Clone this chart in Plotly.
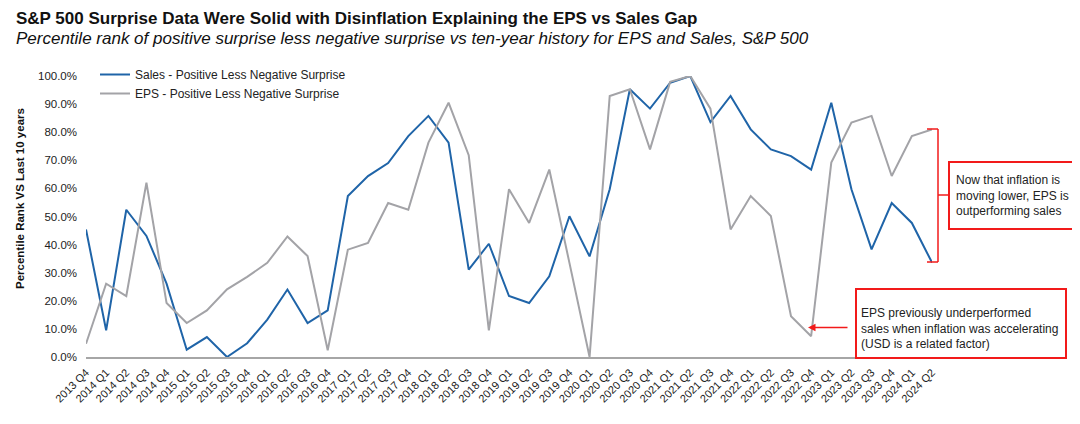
import plotly.graph_objects as go

quarters = ["2013 Q4"] + [f"{y} Q{q}" for y in range(2014, 2024) for q in range(1, 5)] + ["2024 Q1", "2024 Q2"]

sales = [45.4, 9.5, 52.4, 43.1, 26.1, 2.6, 7.1, 0.0, 4.9, 13.3, 24.0, 12.1, 16.6,
         57.3, 64.4, 69.0, 78.6, 85.8, 76.3, 31.1, 40.3, 21.7, 19.2, 28.7, 50.1,
         35.8, 59.7, 95.3, 88.4, 97.6, 100.0, 83.6, 92.9, 81.0, 73.9, 71.5, 66.7,
         90.5, 59.7, 38.3, 54.8, 47.7, 33.6]

eps = [4.7, 26.1, 21.7, 62.0, 19.2, 12.1, 16.6, 24.1, 28.5, 33.5, 42.9, 35.9, 2.4,
       38.2, 40.6, 54.8, 52.4, 76.3, 90.5, 71.8, 9.5, 59.7, 47.7, 66.7, 33.5,
       0.0, 92.9, 95.3, 73.9, 97.9, 100.0, 88.4, 45.4, 57.3, 50.2, 14.5, 7.4,
       69.2, 83.4, 85.8, 64.4, 78.6, 81.0]

FONT = "Liberation Sans, Arial, sans-serif"
OFF = 8  # page body margin
W, H = 1080 - OFF, 424 - OFF
# target positions in screen pixels
SL, SR, ST, SB = 86, 932, 76, 357
L, T = SL - OFF, ST - OFF
R = W - (SR - OFF)
B = H - (SB - OFF)
PW = W - L - R
PH = H - T - B

def px(x):
    return (x - OFF - L) / PW

def py(y):
    return (H - B - (y - OFF)) / PH

fig = go.Figure()
fig.add_trace(go.Scatter(x=quarters, y=sales, mode="lines",
                         name="Sales - Positive Less Negative Surprise",
                         line=dict(color="#1F64A8", width=2)))
fig.add_trace(go.Scatter(x=quarters, y=eps, mode="lines",
                         name="EPS - Positive Less Negative Surprise",
                         line=dict(color="#A3A3A7", width=2)))

RED = "#F21A1A"
shapes = [
    # bracket
    dict(type="line", xref="paper", yref="paper", x0=px(927), x1=px(938), y0=py(129), y1=py(129), line=dict(color=RED, width=1.5)),
    dict(type="line", xref="paper", yref="paper", x0=px(927), x1=px(938), y0=py(262), y1=py(262), line=dict(color=RED, width=1.5)),
    dict(type="line", xref="paper", yref="paper", x0=px(938), x1=px(938), y0=py(129), y1=py(262), line=dict(color=RED, width=1.5)),
    dict(type="line", xref="paper", yref="paper", x0=px(938), x1=px(949), y0=py(195), y1=py(195), line=dict(color=RED, width=1.5)),
    # boxes
    dict(type="rect", xref="paper", yref="paper", x0=px(949), x1=px(1073), y0=py(229), y1=py(162), line=dict(color=RED, width=2), fillcolor="white"),
    dict(type="rect", xref="paper", yref="paper", x0=px(856), x1=px(1066), y0=py(358), y1=py(289), line=dict(color=RED, width=2), fillcolor="white"),
]

annotations = [
    dict(text="<b>S&P 500 Surprise Data Were Solid with Disinflation Explaining the EPS vs Sales Gap</b>",
         xref="paper", yref="paper", x=px(14), y=py(18), xanchor="left", yanchor="middle", showarrow=False,
         font=dict(family=FONT, size=17, color="#111")),
    dict(text="<i>Percentile rank of positive surprise less negative surprise vs ten-year history for EPS and Sales, S&P 500</i>",
         xref="paper", yref="paper", x=px(14), y=py(38), xanchor="left", yanchor="middle", showarrow=False,
         font=dict(family=FONT, size=17, color="#111")),
    dict(text="<b>Percentile Rank VS Last 10 years</b>", textangle=-90,
         xref="paper", yref="paper", x=px(20), y=py(199), xanchor="center", yanchor="middle", showarrow=False,
         font=dict(family=FONT, size=11.5, color="#111")),
    dict(text="Now that inflation is<br>moving lower, EPS is<br>outperforming sales",
         xref="paper", yref="paper", x=px(954), y=py(195), xanchor="left", yanchor="middle", align="left",
         showarrow=False, font=dict(family=FONT, size=12, color="#222")),
    dict(text="EPS previously underperformed<br>sales when inflation was accelerating<br>(USD is a related factor)",
         xref="paper", yref="paper", x=px(859), y=py(328), xanchor="left", yanchor="middle", align="left",
         showarrow=False, font=dict(family=FONT, size=12, color="#222")),
    dict(text="", xref="paper", yref="paper", x=px(808), y=py(327.5), ax=41, ay=0,
         axref="pixel", ayref="pixel", showarrow=True, arrowhead=2, arrowsize=1, arrowwidth=1.5, arrowcolor=RED),
]

fig.update_layout(
    width=W, height=H,
    margin=dict(l=L, r=R, t=T, b=B, autoexpand=False),
    paper_bgcolor="white", plot_bgcolor="white",
    font=dict(family=FONT, size=11, color="#222"),
    showlegend=True,
    legend=dict(x=px(95), y=py(60), xanchor="left", yanchor="top", bgcolor="rgba(0,0,0,0)",
                font=dict(family=FONT, size=12, color="#222"), tracegroupgap=0, itemwidth=30),
    shapes=shapes, annotations=annotations,
    xaxis=dict(type="category", showgrid=False, zeroline=False, showline=True, linecolor="#A6A6A6", linewidth=1.5,
               tickangle=-45, ticks="", ticklabelstandoff=3, tickfont=dict(family=FONT, size=11, color="#222")),
    yaxis=dict(range=[0, 100], dtick=10, tickformat=".1f", ticksuffix="%", showgrid=False, zeroline=False,
               showline=False, ticks="", ticklabelstandoff=8, tickfont=dict(family=FONT, size=11.5, color="#222")),
)

fig.write_html("out.html")
